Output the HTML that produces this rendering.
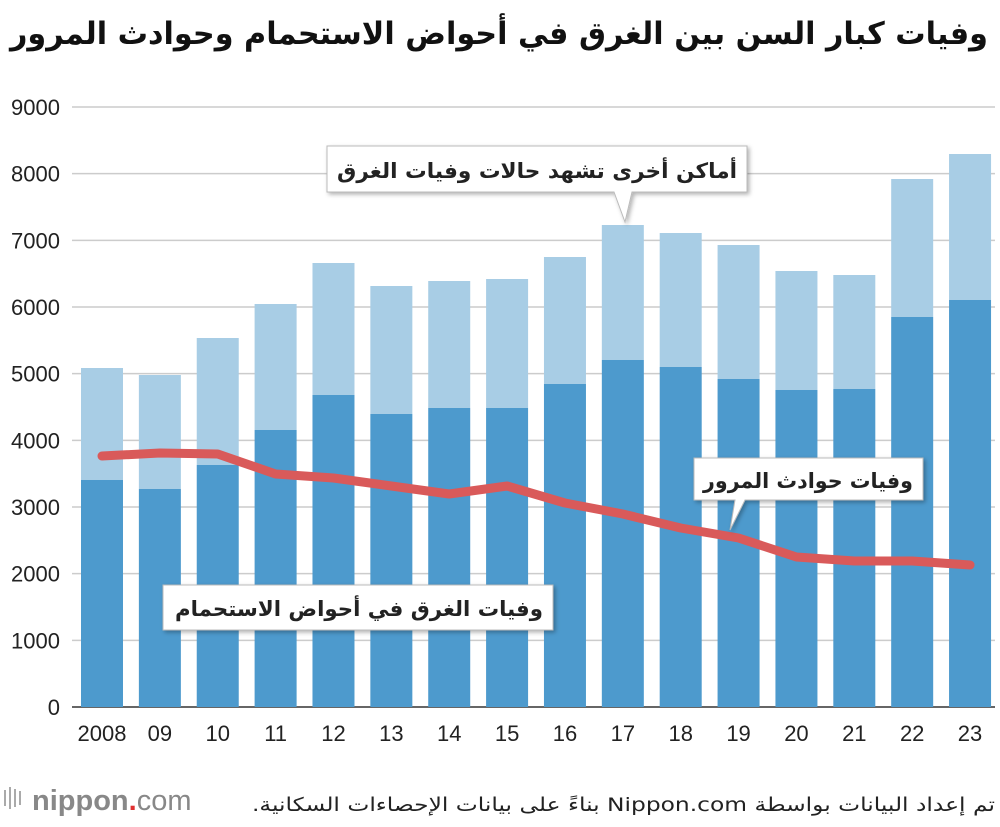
<!DOCTYPE html>
<html><head><meta charset="utf-8">
<style>
body{margin:0;width:1000px;height:822px;background:#fff;overflow:hidden;font-family:"Liberation Sans","DejaVu Sans",sans-serif;}
</style></head>
<body>
<svg id="chart" width="1000" height="822" xmlns="http://www.w3.org/2000/svg">
<defs><filter id="sh" x="-10%" y="-20%" width="130%" height="150%"><feDropShadow dx="2" dy="2" stdDeviation="2" flood-color="#000" flood-opacity="0.3"/></filter></defs>
<text x="988" y="44" text-anchor="start" font-size="31" font-weight="bold" fill="#111" font-family="'DejaVu Sans',sans-serif" direction="rtl" textLength="978" lengthAdjust="spacingAndGlyphs">وفيات كبار السن بين الغرق في أحواض الاستحمام وحوادث المرور</text>
<g id="grid"></g><g id="bars"></g><g id="line"></g><g id="xlabels"></g>
<g filter="url(#sh)">
<path d="M327,146 H747 V192 H632 L625,222 L614,192 H327 Z" fill="#fff" stroke="#bbb"/>
</g>
<text x="737" y="178" text-anchor="start" font-size="21" font-weight="bold" fill="#222" font-family="'DejaVu Sans',sans-serif" direction="rtl" textLength="400" lengthAdjust="spacingAndGlyphs">أماكن أخرى تشهد حالات وفيات الغرق</text>
<g filter="url(#sh)">
<path d="M694,458 H923 V500 H745 L730,530 L735,500 H694 Z" fill="#fff" stroke="#bbb"/>
</g>
<text x="913" y="488" text-anchor="start" font-size="21" font-weight="bold" fill="#222" font-family="'DejaVu Sans',sans-serif" direction="rtl" textLength="210" lengthAdjust="spacingAndGlyphs">وفيات حوادث المرور</text>
<g filter="url(#sh)">
<rect x="163" y="585" width="390" height="45" fill="#fff" stroke="#bbb"/>
</g>
<text x="543" y="616" text-anchor="start" font-size="21" font-weight="bold" fill="#222" font-family="'DejaVu Sans',sans-serif" direction="rtl" textLength="368" lengthAdjust="spacingAndGlyphs">وفيات الغرق في أحواض الاستحمام</text>
<g>
<rect x="4" y="790" width="2" height="16" fill="#aaa"/><rect x="9" y="787" width="2" height="22" fill="#aaa"/><rect x="14" y="789" width="2" height="18" fill="#aaa"/><rect x="19" y="791" width="2" height="14" fill="#aaa"/>
<text x="32" y="810" font-size="29" fill="#888" font-weight="bold">nippon<tspan fill="#e03030">.</tspan><tspan font-weight="normal">com</tspan></text>
</g>
<text x="995" y="811" text-anchor="start" font-size="19" fill="#222" font-family="'DejaVu Sans',sans-serif" direction="rtl" textLength="743" lengthAdjust="spacingAndGlyphs">تم إعداد البيانات بواسطة Nippon.com بناءً على بيانات الإحصاءات السكانية.</text>
</svg>
<script>
const categories=["2008","09","10","11","12","13","14","15","16","17","18","19","20","21","22","23"];
const totalDeaths=[5085,4980,5535,6045,6660,6315,6390,6420,6750,7230,7110,6930,6540,6480,7920,8295];
const bathDeaths=[3405,3270,3630,4155,4680,4395,4485,4485,4845,5205,5100,4920,4755,4770,5850,6105];
const trafficDeaths=[3765,3810,3795,3495,3435,3315,3195,3315,3060,2895,2685,2535,2250,2190,2190,2130];
const yTicks=[0,1000,2000,3000,4000,5000,6000,7000,8000,9000];
const NS="http://www.w3.org/2000/svg";
const y=v=>707-v*600/9000;
const x=i=>102+i*57.87;
function mk(tag,attrs,parent){const e=document.createElementNS(NS,tag);for(const k in attrs)e.setAttribute(k,attrs[k]);document.getElementById(parent).appendChild(e);return e;}
yTicks.forEach(t=>{
 const l=mk('line',{x1:72,x2:995,y1:y(t),y2:y(t),stroke:t===0?'#333':'#ccc','stroke-width':1.5},'grid');
 
 
 const tx=mk('text',{x:60,y:y(t)+8,'text-anchor':'end','font-size':22,fill:'#222'},'grid');tx.textContent=t;
 
 
});
categories.forEach((c,i)=>{
 const a=mk('rect',{x:x(i)-21,y:y(totalDeaths[i]),width:42,height:y(bathDeaths[i])-y(totalDeaths[i]),fill:'#a8cde5'},'bars');
 
 
 const b=mk('rect',{x:x(i)-21,y:y(bathDeaths[i]),width:42,height:y(0)-y(bathDeaths[i]),fill:'#4d9acd'},'bars');
 
 
 const t=mk('text',{x:x(i),y:741,'text-anchor':'middle','font-size':22,fill:'#222'},'xlabels');t.textContent=c;
 
 
});
const p=mk('polyline',{points:trafficDeaths.map((v,i)=>x(i)+','+y(v)).join(' '),fill:'none',stroke:'#d95a5a','stroke-width':9,'stroke-linejoin':'round','stroke-linecap':'round'},'line');


</script>
</body></html>
